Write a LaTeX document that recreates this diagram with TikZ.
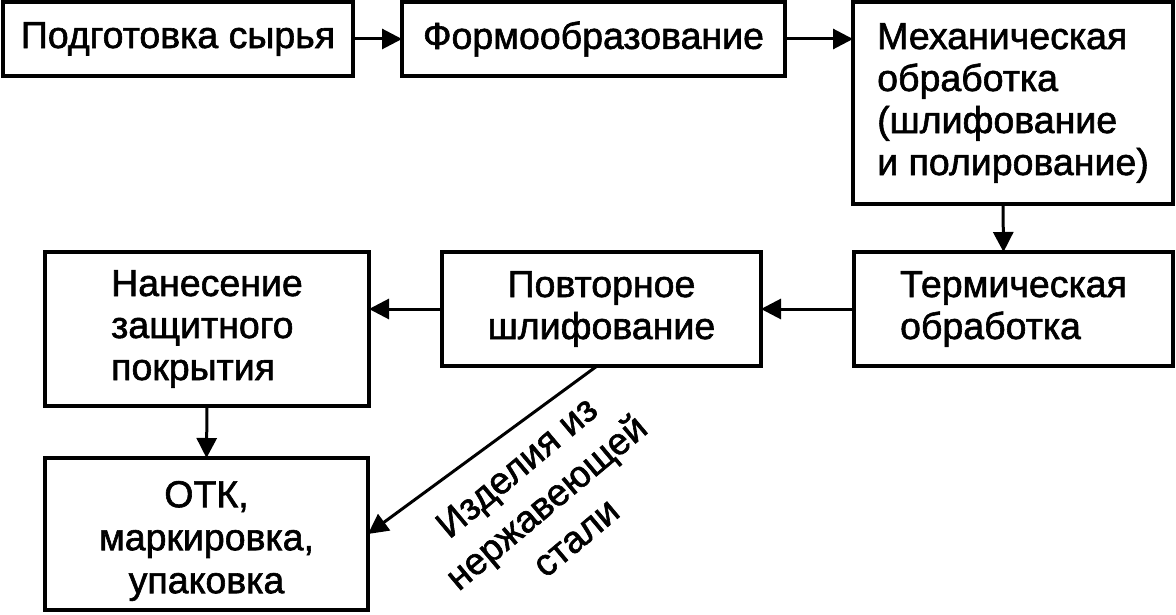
\documentclass[tikz,border=0pt]{standalone}
\usepackage{fontspec}
\setmainfont{Liberation Sans}[UprightFeatures={FakeBold=1.6}]
\usetikzlibrary{arrows.meta,calc}
\begin{document}
\begin{tikzpicture}[x=1pt,y=-1pt,
  box/.style={draw,line width=3.4pt,inner sep=0pt,outer sep=0pt,
    font=\fontsize{37.5}{42}\selectfont},
  conn/.style={line width=3pt,-{Triangle[length=20pt,width=20pt]}},
  lbl/.style={font=\fontsize{37.5}{46}\selectfont,align=center,rotate=40,inner sep=0pt}]
\useasboundingbox (0,0) rectangle (1176,615);
\node[box,minimum width=350pt,minimum height=74pt] (b1) at (178,39) {Подготовка сырья};
\node[box,minimum width=383pt,minimum height=74pt] (b2) at (593.5,39) {Формообразование};
\node[box,minimum width=320pt,minimum height=202pt,align=left] (b3) at (1013,103)
  {Механическая\\обработка\\(шлифование\\и полирование)};
\node[box,minimum width=319pt,minimum height=114pt,align=left] (b4) at (1013.5,309)
  {Термическая\\обработка};
\node[box,minimum width=319pt,minimum height=114pt,align=center] (b5) at (601.5,309)
  {Повторное\\шлифование};
\node[box,minimum width=324pt,minimum height=154pt,align=left] (b6) at (207,329)
  {Нанесение\\защитного\\покрытия\hspace*{12pt}};
\node[box,minimum width=323pt,minimum height=152pt,
  label={[font=\fontsize{37.5}{43}\selectfont,align=center,yshift=-7pt]center:ОТК,\\маркировка,\\упаковка}] (b7) at (206.5,534) {};
\coordinate (d0) at ($(b5.south west)!0.486!(b5.south east)$);
\node[lbl] (lab) at (546,502) {Изделия из\\нержавеющей\\стали};
\draw[conn] (b1.east) -- (b2.west);
\draw[conn] (b2.east) -- (b2.east -| b3.west);
\draw[conn] ([xshift=-10pt]b3.south) -- ([xshift=-10pt]b4.north);
\draw[conn] (b4.west) -- (b5.east);
\draw[conn] (b5.west) -- (b5.west -| b6.east);
\draw[conn] (b6.south) -- (b7.north);
\draw[conn] (d0) -- (b7.east);
\end{tikzpicture}
\end{document}
